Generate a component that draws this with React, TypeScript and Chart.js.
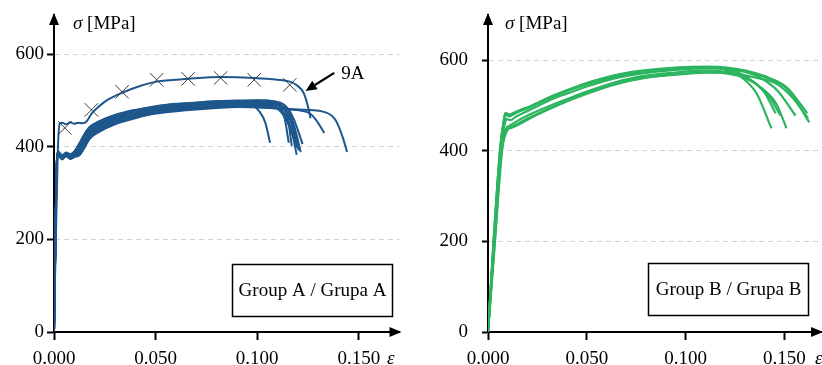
import React, { useEffect, useRef } from 'react';
import { Chart, registerables } from 'chart.js';

Chart.register(...registerables);

type Pt = [number, number];

const FONT = '"Liberation Serif", "Times New Roman", serif';
const BLUE = '#1e578c';
const GREEN = '#2db45f';
const MARK = '#3a3a3a';

// ---------- Group A (strain ε, stress σ [MPa]) ----------
const curveA01: Pt[] = [[0,0],[0.0015,374],[0.002,386],[0.004,377],[0.006,384],[0.008,379],[0.010,384],[0.0125,394],[0.015,412],[0.0175,429],[0.022,442],[0.03,458],[0.04,470],[0.05,479],[0.06,484],[0.07,488],[0.08,491],[0.09,492],[0.0976,489],[0.101,477],[0.104,452],[0.1063,409]];
const curveA02: Pt[] = [[0,0],[0.0015,377],[0.002,389],[0.004,379],[0.006,387],[0.008,383],[0.010,389],[0.0125,405],[0.015,425],[0.0175,440],[0.022,452],[0.03,467],[0.04,478],[0.05,486],[0.06,491],[0.07,494],[0.08,497],[0.09,498],[0.1,499],[0.107,497],[0.111,487],[0.1135,462],[0.1155,409]];
const curveA03: Pt[] = [[0,0],[0.0015,378],[0.002,390],[0.004,382],[0.006,388],[0.008,384],[0.010,390],[0.0125,408],[0.015,428],[0.0175,443],[0.022,455],[0.03,469],[0.04,480],[0.05,488],[0.06,493],[0.07,496],[0.08,499],[0.09,500],[0.1,501],[0.108,498],[0.112,488],[0.115,462],[0.117,402]];
const curveA04: Pt[] = [[0,0],[0.0015,376],[0.002,386],[0.004,380],[0.006,386],[0.008,382],[0.010,387],[0.0125,402],[0.015,421],[0.0175,437],[0.022,450],[0.03,465],[0.04,476],[0.05,484],[0.06,490],[0.07,493],[0.08,496],[0.09,497],[0.1,498],[0.109,494],[0.113,483],[0.1165,455],[0.1194,398]];
const curveA05: Pt[] = [[0,0],[0.0015,374],[0.002,387],[0.004,376],[0.006,385],[0.008,378],[0.010,385],[0.0125,397],[0.015,415],[0.0175,432],[0.022,445],[0.03,460],[0.04,472],[0.05,481],[0.06,486],[0.07,490],[0.08,493],[0.09,494],[0.1,494],[0.11,490],[0.114,478],[0.1175,448],[0.1204,392]];
const curveA06: Pt[] = [[0,0],[0.0015,375],[0.002,385],[0.004,378],[0.006,383],[0.008,380],[0.010,386],[0.0125,400],[0.015,418],[0.0175,434],[0.022,447],[0.03,462],[0.04,474],[0.05,483],[0.06,488],[0.07,491],[0.08,494],[0.09,496],[0.1,496],[0.111,491],[0.115,478],[0.118,448],[0.1214,389]];
const curveA07: Pt[] = [[0,0],[0.0015,373],[0.002,384],[0.004,375],[0.006,383],[0.008,376],[0.010,382],[0.0125,391],[0.015,408],[0.0175,426],[0.022,440],[0.03,456],[0.04,468],[0.05,477],[0.06,483],[0.07,486],[0.08,489],[0.09,491],[0.1,491],[0.109,487],[0.113,474],[0.1165,443],[0.1194,383]];
const curveA08: Pt[] = [[0,0],[0.0015,377],[0.002,388],[0.004,381],[0.006,386],[0.008,383],[0.010,388],[0.0125,406],[0.015,426],[0.0175,442],[0.022,454],[0.03,468],[0.04,479],[0.05,487],[0.06,492],[0.07,495],[0.08,498],[0.09,499],[0.1,500],[0.11,497],[0.1145,486],[0.118,460],[0.1223,406]];
const curveA09: Pt[] = [[0,0],[0.0015,371],[0.002,383],[0.004,373],[0.006,381],[0.008,375],[0.010,379],[0.0125,385],[0.015,401],[0.0175,420],[0.022,435],[0.03,451],[0.04,464],[0.05,474],[0.06,479],[0.07,483],[0.08,486],[0.09,487],[0.1,486],[0.1146,481],[0.1252,474],[0.129,458],[0.133,430]];
const curveA10: Pt[] = [[0,0],[0.0015,370],[0.002,382],[0.004,374],[0.006,380],[0.008,374],[0.010,378],[0.0125,382],[0.015,398],[0.0175,417],[0.022,432],[0.03,449],[0.04,462],[0.05,472],[0.06,477],[0.07,481],[0.08,484],[0.09,486],[0.1,485],[0.1228,480],[0.134,474],[0.1388,456],[0.1422,419],[0.1442,389]];
const curveA11: Pt[] = [[0,0],[0.0015,372],[0.002,385],[0.004,374],[0.006,382],[0.008,377],[0.010,380],[0.0125,388],[0.015,404],[0.0175,423],[0.022,437],[0.03,453],[0.04,466],[0.05,475],[0.06,481],[0.07,485],[0.08,487],[0.09,489],[0.1,489],[0.108,486],[0.112,474],[0.1155,447],[0.1185,412]];
const curve9A: Pt[] = [[0,0],[0.0018,380],[0.0028,450],[0.004,452],[0.006,449],[0.008,453],[0.010,450],[0.012,452],[0.014,451],[0.016,455],[0.0185,472],[0.022,487],[0.0265,502],[0.0335,517],[0.042,531],[0.0505,541],[0.066,547],[0.082,551],[0.0985,549],[0.11,545],[0.116,541],[0.1195,533],[0.1228,517],[0.1248,490],[0.1262,462]];
const markers9A: Pt[] = [[0.0053,441],[0.0184,480],[0.0335,519],[0.0505,545],[0.066,547],[0.082,549],[0.0985,545],[0.116,534]];
const groupACurves: Pt[][] = [curveA01, curveA02, curveA03, curveA04, curveA05, curveA06, curveA07, curveA08, curveA09, curveA10, curveA11];

// ---------- Group B ----------
const curveB1: Pt[] = [[0,0],[0.003,215],[0.0062,405],[0.0082,472],[0.0088,483],[0.0105,478],[0.013,481],[0.0165,489],[0.0205,495],[0.0255,506],[0.032,519],[0.0404,534],[0.05,549],[0.064,566],[0.078,576],[0.095,583],[0.108,585],[0.116,583],[0.122,576],[0.129,560],[0.136,526],[0.1434,450]];
const curveB2: Pt[] = [[0,0],[0.0035,205],[0.007,405],[0.0095,445],[0.0115,452],[0.015,460],[0.0202,472],[0.03,492],[0.0404,511],[0.05,527],[0.064,547],[0.078,561],[0.095,569],[0.11,573],[0.12,571],[0.13,561],[0.139,537],[0.146,503],[0.151,450]];
const curveB3: Pt[] = [[0,0],[0.0032,212],[0.0064,402],[0.0084,470],[0.009,480],[0.0108,476],[0.0135,483],[0.017,490],[0.021,497],[0.026,507],[0.033,521],[0.0404,533],[0.05,548],[0.064,565],[0.078,575],[0.095,582],[0.11,585],[0.118,583],[0.126,574],[0.133,557],[0.14,528],[0.1455,483]];
const curveB4: Pt[] = [[0,0],[0.0034,208],[0.0068,408],[0.009,448],[0.0112,456],[0.0145,465],[0.02,478],[0.03,497],[0.0404,515],[0.05,531],[0.064,551],[0.078,565],[0.095,573],[0.11,577],[0.119,575],[0.128,566],[0.136,547],[0.1425,518],[0.148,478]];
const curveB5: Pt[] = [[0,0],[0.003,210],[0.0061,404],[0.008,468],[0.0087,481],[0.0102,479],[0.0125,482],[0.016,488],[0.0202,494],[0.0253,505],[0.032,518],[0.0404,533],[0.05,547],[0.064,564],[0.078,574],[0.095,581],[0.112,584],[0.121,582],[0.13,575],[0.138,561],[0.1465,533],[0.1556,478]];
const curveB6: Pt[] = [[0,0],[0.0031,212],[0.0063,407],[0.0083,471],[0.0089,484],[0.0106,480],[0.013,484],[0.0165,491],[0.021,498],[0.026,508],[0.033,522],[0.0404,535],[0.05,550],[0.064,567],[0.078,577],[0.095,584],[0.112,586],[0.121,584],[0.131,577],[0.14,565],[0.151,541],[0.1616,483]];
const curveB7: Pt[] = [[0,0],[0.0036,204],[0.0072,402],[0.0098,446],[0.012,451],[0.0155,458],[0.0205,470],[0.03,490],[0.0404,510],[0.05,526],[0.064,546],[0.078,560],[0.095,568],[0.112,573],[0.124,571],[0.135,562],[0.146,548],[0.154,518],[0.162,472]];
const curveB8: Pt[] = [[0,0],[0.0033,210],[0.0065,403],[0.0086,462],[0.0095,470],[0.0115,468],[0.014,475],[0.018,484],[0.0225,493],[0.028,505],[0.035,519],[0.0404,527],[0.05,542],[0.064,560],[0.078,571],[0.095,579],[0.112,582],[0.123,580],[0.133,572],[0.142,560],[0.152,534],[0.1626,463]];
const groupBCurves: Pt[][] = [curveB1, curveB2, curveB3, curveB4, curveB5, curveB6, curveB7, curveB8];

// ---------- axes / labels ----------
const strainTickStep = 0.05;
const stressTickStep = 200;
const yAxisTitleSigma = 'σ';
const yAxisTitleUnit = ' [MPa]';
const xAxisTitle = 'ε';
const titleA = 'Group A / Grupa A';
const titleB = 'Group B / Grupa B';
const noteLabel = '9A';
const notePointer: Pt = [0.1238, 521];
const noteTail: Pt = [0.1379, 560];

const toXY = (pts: Pt[]) => pts.map(([x, y]) => ({ x, y }));

type DecoOpts = {
  title: string;
  box: [number, number, number, number];
  sigmaX: number;
  epsX: number;
  note?: boolean;
};

function makeDeco(o: DecoOpts) {
  return {
    id: 'deco',
    afterDraw(chart: any) {
      const { ctx, chartArea: a } = chart;
      ctx.save();
      ctx.fillStyle = '#000';
      ctx.strokeStyle = '#000';
      // axis arrows
      ctx.beginPath();
      ctx.moveTo(a.left, a.top - 2);
      ctx.lineTo(a.left - 5, a.top + 10);
      ctx.lineTo(a.left + 5, a.top + 10);
      ctx.closePath();
      ctx.fill();
      ctx.beginPath();
      ctx.moveTo(a.right + 2, a.bottom);
      ctx.lineTo(a.right - 10, a.bottom - 5);
      ctx.lineTo(a.right - 10, a.bottom + 5);
      ctx.closePath();
      ctx.fill();
      // axis titles
      ctx.textAlign = 'left';
      ctx.textBaseline = 'alphabetic';
      ctx.font = `italic 19px ${FONT}`;
      ctx.fillText(yAxisTitleSigma, o.sigmaX, 29);
      const w = ctx.measureText(yAxisTitleSigma).width;
      ctx.font = `19px ${FONT}`;
      ctx.fillText(yAxisTitleUnit, o.sigmaX + w, 29);
      ctx.font = `italic 19px ${FONT}`;
      ctx.fillText(xAxisTitle, o.epsX, 364);
      // group box
      const [bx, by, bw, bh] = o.box;
      ctx.lineWidth = 1.5;
      ctx.strokeRect(bx, by, bw, bh);
      ctx.font = `19px ${FONT}`;
      ctx.textAlign = 'center';
      ctx.textBaseline = 'middle';
      ctx.fillText(o.title, bx + bw / 2, by + bh / 2 + 1);
      // 9A annotation
      if (o.note) {
        const xs = chart.scales.x;
        const ys = chart.scales.y;
        const px = xs.getPixelForValue(notePointer[0]);
        const py = ys.getPixelForValue(notePointer[1]);
        const tx = xs.getPixelForValue(noteTail[0]);
        const ty = ys.getPixelForValue(noteTail[1]);
        const ang = Math.atan2(py - ty, px - tx);
        const hl = 11;
        const bxp = px - hl * Math.cos(ang);
        const byp = py - hl * Math.sin(ang);
        ctx.lineWidth = 2.2;
        ctx.beginPath();
        ctx.moveTo(tx, ty);
        ctx.lineTo(bxp, byp);
        ctx.stroke();
        ctx.beginPath();
        ctx.moveTo(px, py);
        ctx.lineTo(bxp + 5 * Math.sin(ang), byp - 5 * Math.cos(ang));
        ctx.lineTo(bxp - 5 * Math.sin(ang), byp + 5 * Math.cos(ang));
        ctx.closePath();
        ctx.fill();
        ctx.textAlign = 'left';
        ctx.textBaseline = 'alphabetic';
        ctx.font = `19px ${FONT}`;
        ctx.fillText(noteLabel, tx + 7, ty + 6);
      }
      ctx.restore();
    },
  };
}

type OptP = { xMax: number; yMax: number; yWidth: number; yTickLen: number; yPad: number; padRight: number; padTop: number };

function makeOptions(p: OptP): any {
  return {
    responsive: false,
    animation: false,
    events: [],
    layout: { padding: { top: p.padTop, right: p.padRight, bottom: 0, left: 0 } },
    plugins: { legend: { display: false }, tooltip: { enabled: false } },
    elements: {
      point: { radius: 0 },
      line: { borderWidth: 2, cubicInterpolationMode: 'monotone' },
    },
    scales: {
      x: {
        type: 'linear',
        min: 0,
        max: p.xMax,
        afterFit: (s: any) => { s.height = 33; },
        grid: { drawOnChartArea: false, tickLength: 8, tickColor: '#000', tickWidth: 2 },
        border: { color: '#000', width: 2 },
        ticks: {
          stepSize: strainTickStep,
          includeBounds: false,
          padding: 8,
          color: '#000',
          maxRotation: 0,
          autoSkip: false,
          font: { family: FONT, size: 19 },
          callback: (v: any) => Number(v).toFixed(3),
        },
      },
      y: {
        type: 'linear',
        min: 0,
        max: p.yMax,
        afterFit: (s: any) => {
          s.width = p.yWidth;
          s.paddingTop = 0;
          s.paddingBottom = 0;
        },
        grid: {
          color: (c: any) => (c.tick && c.tick.value === 0 ? 'rgba(0,0,0,0)' : '#d2d2d2'),
          lineWidth: 1,
          tickLength: p.yTickLen,
          tickColor: '#000',
          tickWidth: 2,
        },
        border: { color: '#000', width: 2, dash: [5, 4] },
        ticks: {
          stepSize: stressTickStep,
          includeBounds: false,
          padding: p.yPad,
          color: '#000',
          font: { family: FONT, size: 19 },
        },
      },
    },
  };
}

export default function App() {
  const leftRef = useRef<HTMLCanvasElement>(null);
  const rightRef = useRef<HTMLCanvasElement>(null);

  useEffect(() => {
    const left = new Chart(leftRef.current as HTMLCanvasElement, {
      type: 'line',
      data: {
        datasets: [
          {
            data: toXY(markers9A),
            showLine: false,
            pointStyle: 'crossRot',
            pointRadius: 9.5,
            pointBorderColor: MARK,
            pointBorderWidth: 1,
            borderColor: MARK,
          } as any,
          { data: toXY(curve9A), borderColor: BLUE, borderWidth: 2 },
          ...groupACurves.map((c) => ({ data: toXY(c), borderColor: BLUE, borderWidth: 2 })),
        ],
      },
      options: makeOptions({ xMax: 0.17, yMax: 685, yWidth: 54, yTickLen: 7, yPad: 3, padRight: 6, padTop: 15 }),
      plugins: [makeDeco({ title: titleA, box: [232.5, 264.5, 160, 52], sigmaX: 73, epsX: 387, note: true })],
    });
    const right = new Chart(rightRef.current as HTMLCanvasElement, {
      type: 'line',
      data: {
        datasets: groupBCurves.map((c) => ({ data: toXY(c), borderColor: GREEN, borderWidth: 2.2 })),
      },
      options: makeOptions({ xMax: 0.1685, yMax: 700, yWidth: 78, yTickLen: 6, yPad: 14, padRight: 1, padTop: 15 }),
      plugins: [makeDeco({ title: titleB, box: [238.5, 263.5, 160, 52], sigmaX: 95, epsX: 405 })],
    });
    return () => {
      left.destroy();
      right.destroy();
    };
  }, []);

  return (
    <div style={{ position: 'absolute', left: 0, top: 0, width: 822, height: 365, background: '#fff', overflow: 'hidden' }}>
      <canvas ref={leftRef} width={410} height={365} style={{ position: 'absolute', left: 0, top: 0 }} />
      <canvas ref={rightRef} width={412} height={365} style={{ position: 'absolute', left: 410, top: 0 }} />
    </div>
  );
}
